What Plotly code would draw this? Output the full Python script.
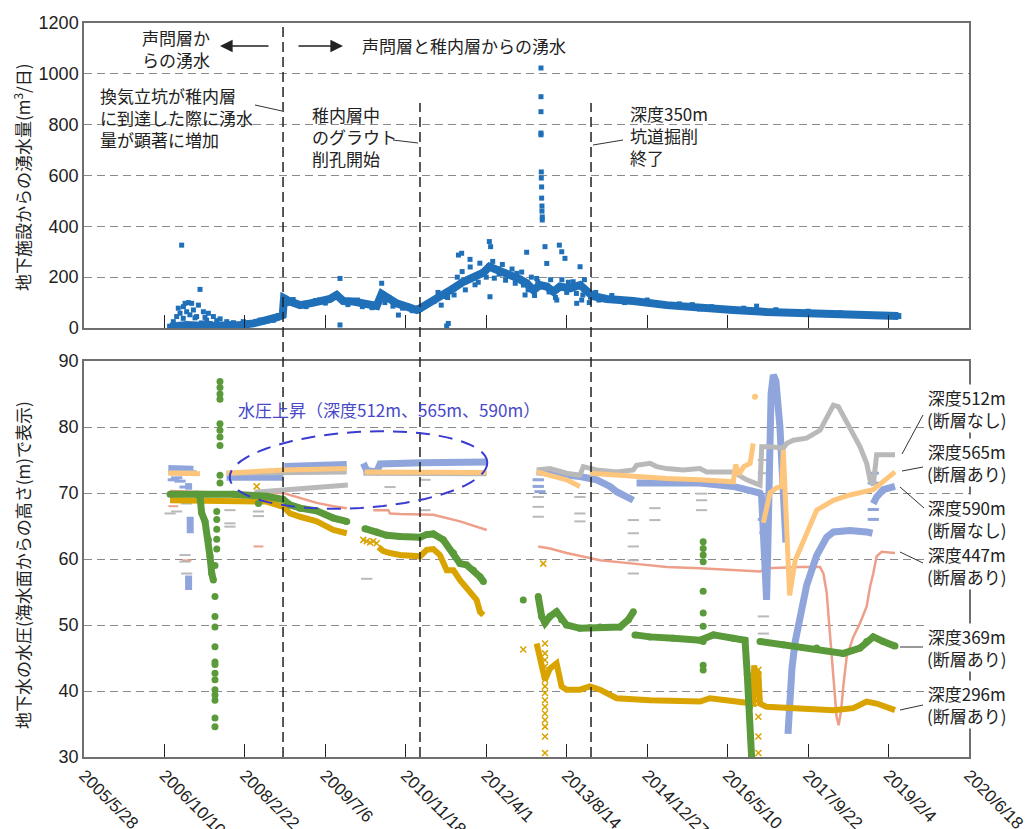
import numpy as np
import pandas as pd
import plotly.graph_objects as go

# ------------------------------------------------------------------
# Data. Dates are Excel serial day numbers (day 0 = 1899-12-30).
# Each series is a list of continuous segments of (date, value).
# ------------------------------------------------------------------

# Inflow into the underground facility (m3/day)
inflow = [
    (39035, 5), (39138, 12), (39262, 8), (39387, 8), (39470, 12), (39553, 18),
    (39635, 29), (39697, 42), (39735, 51), (39743, 117), (39780, 104), (39843, 90),
    (39905, 97), (39967, 108), (40029, 114), (40070, 130), (40111, 106), (40174, 104),
    (40257, 94), (40319, 87), (40350, 134), (40391, 117), (40443, 97), (40505, 84),
    (40568, 71), (40588, 77), (40671, 106), (40733, 126), (40795, 156), (40858, 182),
    (40920, 199), (40982, 218), (41019, 241), (41065, 231), (41148, 208), (41210, 191),
    (41251, 176), (41293, 149), (41334, 169), (41376, 163), (41417, 143), (41458, 163),
    (41521, 156), (41583, 169), (41624, 143), (41651, 123), (41660, 126), (41748, 114),
    (41831, 112), (41914, 106), (42121, 90), (42328, 77), (42535, 71), (42742, 63),
    (42950, 58), (43157, 54), (43364, 51), (43561, 47),
]
inflow_scatter = [
    # 2006-2008 cloud
    (39107, 326), (39221, 152), (39128, 97), (39149, 100), (39169, 97), (39076, 45),
    (39097, 58), (39138, 64), (39180, 71), (39211, 90), (39242, 64), (39273, 58),
    (39304, 45), (39055, 25), (39117, 38), (39200, 45), (39262, 31), (39325, 29),
    (39387, 25), (39428, 21), (39490, 25), (39594, 31), (39086, 78), (39118, 84),
    (39158, 52), (39190, 40), (39230, 20), (39252, 42), (39284, 18), (39315, 14),
    (39346, 36), (39366, 12), (39408, 16), (39450, 10), (39511, 20), (39532, 14),
    (39615, 24), (39656, 36), (39676, 30), (39716, 46),
    # 2008-2011
    (40091, 195), (40091, 12), (40350, 176), (40454, 51), (39760, 96), (39800, 112),
    (39880, 84), (39940, 108), (40000, 98), (40050, 120), (40140, 92), (40200, 110),
    (40230, 84), (40290, 80), (40370, 100), (40420, 86), (40480, 78), (40540, 68),
    # 2011-2014
    (40764, 18), (40754, 8), (40827, 287), (40847, 294), (40899, 270), (41023, 123),
    (41019, 340), (41027, 320), (41241, 130), (41251, 298), (41365, 320), (41376, 254),
    (41438, 110), (41454, 326), (41469, 300), (41489, 274), (41583, 241), (41593, 110),
    (41231, 169), (41313, 195), (41562, 97),
    (40700, 140), (40720, 90), (40760, 120), (40800, 130), (40820, 200), (40850, 222),
    (40870, 150), (40900, 240), (40930, 170), (40950, 180), (40960, 255), (41000, 200),
    (41040, 262), (41050, 196), (41080, 212), (41100, 250), (41120, 188), (41160, 232),
    (41180, 176), (41190, 215), (41220, 220), (41260, 150), (41280, 200), (41300, 128),
    (41320, 182), (41390, 142), (41400, 190), (41430, 120), (41470, 190), (41500, 140),
    (41510, 180), (41540, 182), (41560, 136), (41600, 130), (41610, 190), (41640, 100),
    (41680, 140), (41700, 110), (41780, 128), (41860, 100),
    # spike
    (41340, 1023), (41340, 910), (41340, 851), (41340, 767), (41340, 760), (41342, 614),
    (41342, 590), (41344, 555), (41344, 511), (41346, 480), (41346, 460), (41348, 437),
    (41348, 425),
    # 2014-2019
    (42000, 110), (42200, 95), (42400, 84), (42600, 78), (42800, 72), (43000, 66),
    (43200, 60), (42680, 86), (42280, 92),
]

# Groundwater pressure head (m above sea level), one series per borehole depth
p296 = [
    [(39035, 68.9), (39428, 68.9), (39635, 68.7), (39739, 67.9), (39780, 66.9), (39843, 66.4),
     (39946, 65.7), (40050, 64.4), (40133, 63.9)],
    [(40330, 61.8), (40360, 61.2), (40402, 60.9), (40464, 60.6), (40588, 60.4), (40630, 61.4),
     (40671, 61.5), (40712, 60.6), (40754, 58.3), (40796, 58.3), (40837, 56.8), (40899, 54.8),
     (40940, 53.8), (40961, 52.0), (40982, 51.5)],
    [(41313, 47.2), (41334, 44.7), (41354, 42.2), (41365, 41.7), (41396, 43.4), (41437, 44.2),
     (41468, 40.7), (41499, 40.2), (41582, 40.2), (41644, 40.7), (41707, 40.2), (41810, 38.9),
     (42017, 38.6), (42328, 38.4), (42390, 38.9), (42535, 38.4), (42659, 38.1), (42665, 43.9),
     (42675, 41.0), (42690, 43.0), (42701, 38.1), (42742, 37.6), (42950, 37.4), (43157, 37.1),
     (43281, 37.4), (43364, 38.4), (43426, 38.1), (43540, 37.1)],
]
p296_cross = [
    (39573, 71.0), (40236, 62.9), (40257, 62.7), (40278, 62.5), (40298, 62.7), (40319, 62.4),
    (41230, 46.3), (41354, 59.3),
    (41365, 47.2), (41365, 45.7), (41365, 44.7), (41365, 43.7), (41365, 42.7), (41365, 41.7),
    (41365, 40.7), (41365, 39.7), (41365, 38.6), (41365, 37.6), (41365, 36.6), (41365, 35.6),
    (41365, 34.6), (41365, 33.1), (41365, 30.6),
    (42691, 43.2), (42691, 42.2), (42691, 41.2), (42691, 39.9), (42691, 38.9), (42691, 38.1),
    (42691, 36.1), (42691, 33.1), (42691, 30.6),
]

p369 = [
    [(39035, 69.8), (39200, 69.8), (39428, 69.8), (39635, 69.5), (39739, 69.0), (39780, 68.2),
     (39843, 67.7), (39946, 67.3), (40050, 66.2), (40133, 65.7)],
    [(39221, 69.4), (39231, 67.0), (39252, 65.7), (39273, 62.9), (39283, 60.4), (39294, 57.8),
     (39304, 56.8)],
    [(40246, 64.6), (40319, 64.1), (40381, 63.6), (40464, 63.4), (40588, 63.3), (40630, 63.7),
     (40671, 63.8), (40733, 62.9), (40796, 60.9), (40837, 59.3), (40878, 59.1), (40920, 58.3),
     (40961, 57.3), (40982, 56.6)],
    [(41230, 53.8)],
    [(41323, 54.3), (41344, 51.3), (41365, 50.3), (41396, 51.3), (41437, 52.0), (41468, 50.8),
     (41499, 50.0), (41582, 49.5), (41644, 49.6), (41707, 49.7), (41831, 49.7), (41883, 50.8),
     (41914, 52.0)],
    [(41924, 48.5), (42017, 48.2), (42162, 48.0), (42328, 47.7), (42411, 48.5), (42535, 48.0),
     (42608, 47.7), (42622, 42.5), (42635, 37.5), (42649, 30.0)],
    [(42701, 47.5), (42846, 47.0), (43053, 46.5), (43219, 45.7), (43322, 46.5), (43364, 47.5),
     (43405, 48.2), (43467, 47.5), (43540, 46.8)],
]
p369_dots = [
    (39345, 86.9), (39345, 86.0), (39345, 85.0), (39345, 84.2), (39345, 80.5), (39345, 79.5),
    (39345, 78.5), (39345, 77.2), (39345, 72.7), (39345, 71.5),
    (39325, 67.2), (39325, 66.0), (39325, 64.5), (39325, 63.0), (39325, 61.5),
    (39314, 59.0), (39314, 54.3), (39314, 51.3), (39314, 49.7), (39314, 46.7), (39314, 44.4),
    (39314, 44.0), (39314, 42.7), (39314, 41.7), (39314, 40.2), (39314, 39.4), (39314, 38.6),
    (39314, 35.9), (39314, 34.6),
    (39584, 68.4),
    (42348, 62.6), (42348, 61.6), (42348, 60.6), (42348, 59.6), (42348, 55.1), (42348, 51.8),
    (42348, 49.8), (42348, 47.5), (42348, 43.9), (42348, 43.2),
]

p447 = [
    [(39035, 70.3), (39428, 70.0), (39739, 70.0), (39843, 69.3), (39946, 68.5), (40050, 68.0),
     (40133, 67.7)],
    [(40298, 67.4), (40391, 67.4), (40402, 66.9), (40464, 66.8), (40671, 66.7), (40837, 65.7),
     (41003, 64.4)],
    [(41323, 61.9), (41396, 61.6), (41499, 60.9), (41707, 59.8), (41914, 59.3), (42121, 58.8),
     (42328, 58.6), (42535, 58.3), (42701, 58.1), (42742, 58.6), (42950, 58.8), (43074, 58.8),
     (43095, 57.8), (43115, 55.0), (43140, 47.7), (43157, 41.7), (43177, 36.1), (43190, 34.8),
     (43205, 37.0), (43220, 41.0), (43240, 45.2), (43281, 48.2), (43323, 50.3), (43364, 52.8),
     (43385, 55.8), (43405, 57.8), (43426, 60.4), (43457, 61.1), (43540, 60.9)],
]
p447_marks = [(39138, 59.8), (39584, 61.9), (39055, 68.0)]

p512 = [
    [(39024, 73.1), (39200, 73.1)],
    [(39386, 73.0), (40133, 73.2)],
    [(39560, 70.1), (39800, 70.6), (40140, 71.2)],
    [(40236, 73.0), (41003, 72.9)],
    [(41313, 73.5), (41396, 73.7), (41499, 73.0), (41582, 72.7), (41603, 74.0), (41686, 73.5),
     (41810, 73.2), (41914, 73.5), (41934, 74.2), (42017, 74.5), (42059, 74.0), (42121, 73.7),
     (42224, 73.5), (42328, 73.7), (42369, 73.2), (42535, 73.2), (42618, 72.0), (42701, 71.2),
     (42712, 77.0), (42770, 77.0), (42846, 76.8), (42867, 77.5), (42908, 78.0), (42991, 78.3),
     (43074, 79.5), (43157, 83.3), (43188, 83.1), (43240, 80.6), (43323, 77.0), (43364, 74.5),
     (43385, 72.0), (43405, 71.2), (43426, 75.8), (43467, 75.8), (43540, 75.8)],
]
p512_marks = [
    (39035, 66.9), (39076, 67.2), (39138, 68.4), (39128, 60.6), (39128, 59.6), (39138, 57.8),
    (39407, 67.4), (39407, 65.4), (39407, 64.9), (39584, 67.2), (39584, 66.5), (40257, 57.0),
    (40402, 70.9), (40619, 72.0), (40619, 67.4), (41323, 72.0), (41323, 71.0), (41323, 69.4),
    (41323, 67.9), (41323, 66.4), (41582, 69.4), (41582, 66.9), (41582, 65.7), (41914, 65.9),
    (41914, 63.9), (41914, 61.9), (41914, 59.8), (41914, 57.8), (42048, 67.7), (42048, 65.9),
    (42338, 69.9), (42338, 68.9), (42338, 67.4), (42722, 51.3), (42722, 48.7), (42722, 75.0),
    (42722, 73.0),
]

p565 = [
    [(39024, 73.0), (39180, 73.0), (39221, 72.9)],
    [(39386, 73.0), (39553, 73.3), (39739, 73.5), (39946, 73.6), (40133, 73.7)],
    [(40246, 73.2), (40500, 73.2), (40800, 73.2), (41003, 73.1)],
    [(41313, 73.2), (41396, 72.7), (41499, 72.0), (41582, 71.0)],
    [(41644, 73.0), (41914, 72.5), (42121, 72.2), (42328, 72.0), (42535, 71.7), (42550, 74.3),
     (42570, 72.8), (42600, 74.0), (42640, 74.5), (42659, 77.5)],
    [(42722, 65.5), (42763, 70.0), (42804, 70.8), (42836, 71.0), (42846, 76.5), (42856, 70.0),
     (42867, 62.0), (42885, 54.5), (42920, 59.8), (42991, 63.9), (43053, 67.4), (43157, 68.9),
     (43260, 69.7), (43405, 70.5), (43488, 72.2), (43540, 73.2)],
]
p565_dots = [(42670, 84.6)]

p590 = [
    [(39024, 73.7), (39180, 73.6)],
    [(39150, 71.5), (39150, 70.5)],
    [(39160, 66.4), (39160, 63.9)],
    [(39150, 57.5), (39150, 55.3)],
    [(39386, 72.4), (39739, 72.4)],
    [(39745, 74.0), (40133, 74.3)],
    [(40236, 74.5), (40257, 73.4), (40319, 73.2), (40340, 74.4), (40600, 74.6), (41003, 74.7)],
    [(41313, 73.2), (41396, 73.0), (41499, 72.8), (41582, 72.5), (41686, 72.0), (41769, 71.0),
     (41810, 70.2), (41914, 68.9)],
    [(41934, 71.5), (42121, 71.5), (42328, 71.5), (42535, 71.0), (42701, 70.0), (42711, 69.5),
     (42722, 62.0), (42732, 55.0), (42742, 53.8), (42750, 62.0), (42760, 75.0), (42770, 85.0),
     (42784, 87.9), (42800, 87.0), (42825, 80.0), (42845, 70.0), (42862, 62.5)],
    [(42875, 33.5), (42885, 38.5), (42900, 43.5), (42920, 47.5), (42950, 51.5), (42991, 56.0),
     (43053, 60.5), (43115, 63.3), (43157, 64.1), (43260, 64.3), (43364, 64.1), (43400, 63.9)],
    [(43405, 68.4), (43426, 69.4), (43467, 70.5), (43540, 71.0)],
]
p590_marks = [
    (39055, 72.0), (39076, 72.3), (39097, 71.8), (39128, 70.9), (41323, 72.0), (41323, 71.0),
    (41334, 70.2), (42722, 66.0), (42732, 64.0), (43405, 73.0), (43405, 71.5), (43405, 67.5),
    (43405, 66.0),
]

# Key events (vertical dashed lines)
events = [39737, 40588, 41651]

x_range = [38500, 44000]          # 2005/5/28 .. 2020/6/18
tick_step_days = 500

# ------------------------------------------------------------------
EPOCH = pd.Timestamp("1899-12-30")


def to_date(s):
    return None if s is None else (EPOCH + pd.Timedelta(days=s)).strftime("%Y-%m-%d")


def pts(points):
    return [to_date(t) for t, _ in points], [v for _, v in points]


def segs(segments):
    t, v = [], []
    for i, seg in enumerate(segments):
        if i:
            t.append(None)
            v.append(None)
        for a, b in seg:
            t.append(to_date(a))
            v.append(b)
    return t, v


W, H = 1028, 829
ML, MR, MT, MB = 84, 59, 23, 72
PW, PH = W - ML - MR, H - MT - MB


def px(x, y):
    """pixel position -> paper coordinates"""
    return (x - ML) / PW, (H - MB - y) / PH


TOP_DOMAIN = [px(0, 328)[1], 1.0]
BOT_DOMAIN = [0.0, px(0, 361)[1]]

C_INFLOW = "#1f70b8"
C512 = "#b9b9b9"
C565 = "#fdc67c"
C590 = "#8fa5dc"
C447 = "#ee9f8a"
C369 = "#5a9a3a"
C296 = "#d9a300"
FRAME = "#6f6f6f"
GRID = "#8a8a8a"
JP = "Noto Sans CJK JP"
NUM = "Liberation Sans, Arial"

fig = go.Figure()

# ---- upper panel: inflow ----
t, v = pts(inflow)
fig.add_trace(go.Scatter(x=t, y=v, mode="lines+markers", xaxis="x", yaxis="y",
                         line=dict(color=C_INFLOW, width=8),
                         marker=dict(symbol="square", size=6, color=C_INFLOW)))
t, v = pts(inflow_scatter)
fig.add_trace(go.Scatter(x=t, y=v, mode="markers", xaxis="x", yaxis="y",
                         marker=dict(symbol="square", size=5, color=C_INFLOW)))


# ---- lower panel: pressure heads ----
def add_line(segments, color, width, xa="x2", ya="y2", marker=None):
    t, v = segs(segments)
    fig.add_trace(go.Scatter(x=t, y=v, mode="lines+markers" if marker else "lines",
                             xaxis=xa, yaxis=ya, line=dict(color=color, width=width),
                             marker=marker))


def add_marks(points, color, symbol, size, lw=2):
    t, v = pts(points)
    if symbol in ("line-ew", "x-thin"):
        mk = dict(symbol=symbol, size=size, color=color, line=dict(color=color, width=lw))
    else:
        mk = dict(symbol=symbol, size=size, color=color)
    fig.add_trace(go.Scatter(x=t, y=v, mode="markers", xaxis="x2", yaxis="y2", marker=mk))


add_line(p447, C447, 2.5)
add_marks(p447_marks, C447, "line-ew", 7)
add_marks(p512_marks, C512, "line-ew", 8)
add_marks(p590_marks, C590, "line-ew", 8, 3)
add_line(p590, C590, 7)
add_line(p512, C512, 5)
add_line(p565, C565, 5)
add_marks(p565_dots, C565, "circle", 6)
add_line(p296, C296, 6)
add_marks(p296_cross, C296, "x-thin", 6, 1.5)
add_line(p369, C369, 7, marker=dict(symbol="circle", size=7, color=C369))
add_marks(p369_dots, C369, "circle", 7)

# ---- axes ----
tick0 = to_date(x_range[0])
dtick_ms = tick_step_days * 86400000
common_x = dict(type="date", range=[to_date(x_range[0]), to_date(x_range[1])],
                tick0=tick0, dtick=dtick_ms, ticks="inside", ticklen=13, tickwidth=1,
                tickcolor="#222", showline=True, mirror=True, linecolor=FRAME, linewidth=1.5,
                showgrid=False, zeroline=False, automargin=False)
common_y = dict(showgrid=True, gridcolor=GRID, griddash="8px,5px", gridwidth=1,
                showline=True, mirror=True, linecolor=FRAME, linewidth=1.5, ticks="",
                zeroline=False, automargin=False,
                tickfont=dict(family=NUM, size=18, color="#222"))

fig.update_layout(
    width=W, height=H, margin=dict(l=ML, r=MR, t=MT, b=MB, autoexpand=False),
    plot_bgcolor="white", paper_bgcolor="white", showlegend=False,
    xaxis=dict(domain=[0, 1], anchor="y", showticklabels=False, **common_x),
    xaxis2=dict(domain=[0, 1], anchor="y2", matches="x", showticklabels=True, tickangle=45,
                tickformat="%Y/%-m/%-d", tickfont=dict(family=NUM, size=17, color="#222"),
                **common_x),
    yaxis=dict(domain=TOP_DOMAIN, anchor="x", range=[0, 1200], tick0=0, dtick=200, **common_y),
    yaxis2=dict(domain=BOT_DOMAIN, anchor="x2", range=[30, 90], tick0=30, dtick=10, **common_y),
)

shapes = []
# event lines
for i, ev in enumerate(events):
    y_top = 1.0 if i == 0 else px(0, 103)[1]
    shapes.append(dict(type="line", xref="x", yref="paper", x0=to_date(ev), x1=to_date(ev),
                       y0=0, y1=y_top, line=dict(color="#222", width=1.5, dash="10px,5px")))

# leader lines
leaders = [((255, 105), (282, 111)), ((393, 140), (418, 143)), ((593, 145), (623, 140)),
           ((902, 454), (923, 415)), ((902, 471), (923, 467)), ((900, 487), (924, 508)),
           ((900, 552), (923, 563)), ((900, 647), (923, 647)), ((900, 710), (923, 705))]
for (a, b) in leaders:
    x0, y0 = px(*a)
    x1, y1 = px(*b)
    shapes.append(dict(type="line", xref="paper", yref="paper", x0=x0, y0=y0, x1=x1, y1=y1,
                       line=dict(color="#333", width=1)))

# dashed ellipse around the rising heads
cx, cy, ra, rb, rot = 358.5, 470, 129, 38, np.deg2rad(-3.5)
phi = np.linspace(0, 2 * np.pi, 73)
ex = cx + ra * np.cos(phi) * np.cos(rot) - rb * np.sin(phi) * np.sin(rot)
ey = cy + ra * np.cos(phi) * np.sin(rot) + rb * np.sin(phi) * np.cos(rot)
path = ""
for k, (xx, yy) in enumerate(zip(ex, ey)):
    pxp, pyp = px(xx, yy)
    path += ("M" if k == 0 else "L") + f"{pxp:.5f},{pyp:.5f} "
path += "Z"
shapes.append(dict(type="path", xref="paper", yref="paper", path=path,
                   line=dict(color="#3b3bd0", width=2, dash="14px,9px")))
fig.update_layout(shapes=shapes)

ann = []


def text(x, y, s, size=17, color="#222", xanchor="left", align="left", bg=None):
    xp, yp = px(x, y)
    d = dict(xref="paper", yref="paper", x=xp, y=yp, text=s, showarrow=False,
             xanchor=xanchor, yanchor="middle", align=align,
             font=dict(family=JP, size=size, color=color))
    if bg:
        d.update(bgcolor=bg, borderpad=0)
    ann.append(d)


text(140, 48, "声問層か<br>らの湧水")
text(360, 46, "声問層と稚内層からの湧水")
text(98, 117, "換気立坑が稚内層<br>に到達した際に湧水<br>量が顕著に増加")
text(310, 137, "稚内層中<br>のグラウト<br>削孔開始")
text(628, 135, "深度350m<br>坑道掘削<br>終了")
text(236, 410, "水圧上昇（深度512m、565m、590m）", color="#4848c8")

for yc, s in [(408, "深度512m<br>(断層なし)"), (462, "深度565m<br>(断層あり)"),
              (518, "深度590m<br>(断層なし)"), (565, "深度447m<br>(断層あり)"),
              (647, "深度369m<br>(断層あり)"), (704, "深度296m<br>(断層あり)")]:
    text(967, yc, s, xanchor="center", align="center", bg="white")

# arrows: left = 声問層 only, right = both formations
for head, ax in [((220, 46), 50), ((343, 46), -46)]:
    xp, yp = px(*head)
    ann.append(dict(xref="paper", yref="paper", x=xp, y=yp, ax=ax, ay=0, text="",
                    showarrow=True, arrowhead=2, arrowsize=1.8, arrowwidth=1.4,
                    arrowcolor="#222", standoff=0))

# axis titles
for yc, s in [(177, "地下施設からの湧水量(m<sup>3</sup>/日)"),
              (565, "地下水の水圧(海水面からの高さ(m)で表示)")]:
    xp, yp = px(22, yc)
    ann.append(dict(xref="paper", yref="paper", x=xp, y=yp, text=s, showarrow=False,
                    textangle=-90, xanchor="center", yanchor="middle",
                    font=dict(family=JP, size=17, color="#222")))

fig.update_layout(annotations=ann)
fig.write_html("out.html")
